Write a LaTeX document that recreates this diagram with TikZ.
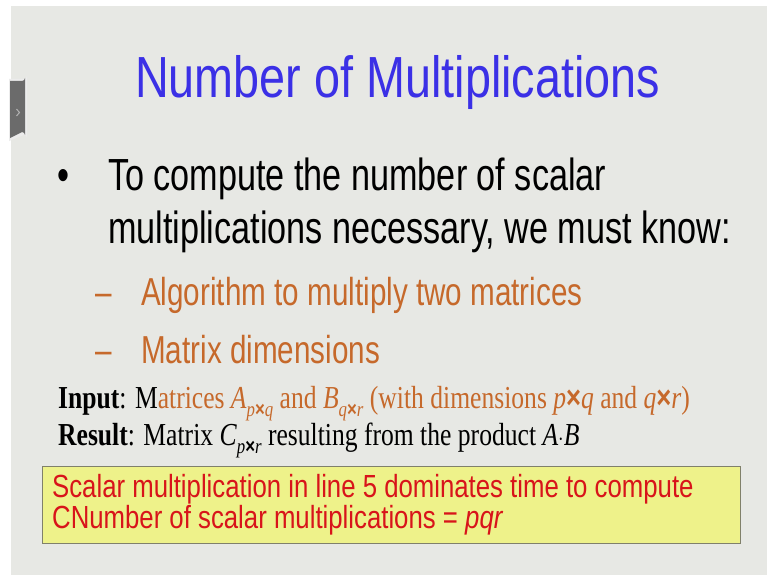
\documentclass[tikz,border=0pt]{standalone}
\usepackage{fontspec}
\setmainfont{Liberation Serif}
\setsansfont{Liberation Sans}
\newfontfamily\xsans{Liberation Sans}
\definecolor{bgc}{HTML}{E7E8E4}
\definecolor{titleblue}{HTML}{3B30E6}
\definecolor{orng}{HTML}{C6692B}
\definecolor{redt}{HTML}{D8141A}
\definecolor{yel}{HTML}{EEF28A}
\definecolor{boxb}{HTML}{80806A}
\newcommand{\mysub}[1]{\raisebox{-0.28em}{\fontsize{21}{21}\selectfont #1}}
\newcommand{\tms}{{\xsans\bfseries ×}}
\tikzset{
  sanst/.style={font=\sffamily, inner sep=0pt, anchor=base west},
  bodyt/.style={sanst, xscale=0.76, font=\sffamily\fontsize{45}{45}\selectfont},
  subt/.style={sanst, xscale=0.76, text=orng, font=\sffamily\fontsize{39}{39}\selectfont},
  sert/.style={inner sep=0pt, anchor=base west, xscale=0.80, font=\rmfamily\fontsize{32}{32}\selectfont},
  redtx/.style={sanst, xscale=0.805, text=redt, font=\sffamily\fontsize{32}{32}\selectfont},
}
\begin{document}
\begin{tikzpicture}[x=1pt,y=-1pt]
\useasboundingbox (0,0) rectangle (767,575);
\fill[white] (0,0) rectangle (767,575);
\fill[bgc] (11,6) rectangle (767,575);
% side tab
\fill[white!85!gray] (9,79) -- (24,79) arc[start angle=90,end angle=0,radius=3] -- (27,138) arc[start angle=0,end angle=-90,radius=3] -- (9,141) -- cycle;
\fill[black!58] (10,81) -- (22,81) arc[start angle=90,end angle=0,radius=3] -- (25,135) arc[start angle=0,end angle=-90,radius=3] -- (10,138) -- cycle;
\draw[black!30, line width=1pt] (16.5,109) -- (19.5,112.5) -- (16.5,116);
% title
\node[sanst, xscale=0.806, text=titleblue, font=\sffamily\fontsize{58}{58}\selectfont] (title) at (135,98) {Number of Multiplications};
% bullet
\node[bodyt] (bul) at (57,190) {•};
\node[bodyt] (l1) at (108,190) {To compute the number of scalar};
\node[bodyt] (l2) at (108,243) {multiplications necessary, we must know:};
% sub items
\node[subt] (d1) at (95,305) {–};
\node[subt] (s1) at (141,305) {Algorithm to multiply two matrices};
\node[subt] (d2) at (95,363) {–};
\node[subt] (s2) at (141,363) {Matrix dimensions};
% input / result
\node[sert] (inp) at (58,408) {\textbf{Input}: M\textcolor{orng}{atrices \textit{A}\mysub{\textit{p}\tms\textit{q}} and \textit{B}\mysub{\textit{q}\tms\textit{r}} (with dimensions \textit{p}\tms\textit{q} and \textit{q}\tms\textit{r})}};
\node[sert] (res) at (58,445) {\textbf{Result}: Matrix \textit{C}\mysub{\textit{p}\tms\textit{r}} resulting from the product \textit{A}$\cdot$\textit{B}};
% box
\node[draw=boxb, fill=yel, line width=1pt, inner sep=0pt, minimum width=698, minimum height=77, anchor=north west] (box) at (42,466) {};
\node[redtx] (b1) at (52,497) {Scalar multiplication in line 5 dominates time to compute};
\node[redtx] (b2) at (52,528) {CNumber of scalar multiplications = \textit{pqr}};
\end{tikzpicture}
\end{document}
